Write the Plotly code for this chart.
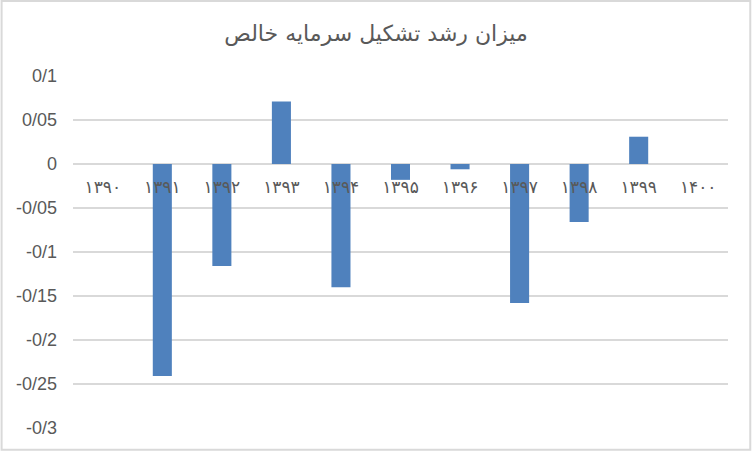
import plotly.graph_objects as go

# years (Persian digits) and growth values
years = ["۱۳۹۰", "۱۳۹۱", "۱۳۹۲", "۱۳۹۳", "۱۳۹۴", "۱۳۹۵",
         "۱۳۹۶", "۱۳۹۷", "۱۳۹۸", "۱۳۹۹", "۱۴۰۰"]
growth = [None, -0.241, -0.116, 0.071, -0.140, -0.018,
          -0.006, -0.158, -0.066, 0.031, None]

y_ticks = [0.1, 0.05, 0, -0.05, -0.1, -0.15, -0.2, -0.25, -0.3]
y_labels = ["0/1", "0/05", "0", "-0/05", "-0/1", "-0/15", "-0/2", "-0/25", "-0/3"]

title = "میزان رشد تشکیل سرمایه خالص"

grey_text = "#595959"
grid = "#d9d9d9"

fig = go.Figure(go.Bar(
    x=years,
    y=growth,
    marker=dict(color="#4f81bd", line=dict(width=0)),
    showlegend=False,
))

fig.update_layout(
    width=752,
    height=452,
    paper_bgcolor="white",
    plot_bgcolor="white",
    margin=dict(l=73, r=24, t=76, b=24),
    bargap=0.68,
    title=dict(
        text=title,
        x=0.5,
        xanchor="center",
        y=0.926,
        yanchor="middle",
        font=dict(family="DejaVu Sans", size=22, color=grey_text),
    ),
    xaxis=dict(
        type="category",
        anchor="free",
        position=0.75,  # zero line of the y range below
        showgrid=False,
        showline=False,
        zeroline=False,
        ticks="outside",
        ticklen=8,
        tickcolor="rgba(0,0,0,0)",
        tickfont=dict(family="DejaVu Sans", size=17, color=grey_text),
        fixedrange=True,
    ),
    yaxis=dict(
        range=[-0.3, 0.1],
        tickvals=y_ticks,
        ticktext=y_labels,
        showgrid=True,
        gridcolor=grid,
        gridwidth=1.5,
        zeroline=True,
        zerolinecolor=grid,
        zerolinewidth=1.5,
        showline=False,
        ticks="",
        ticklabelstandoff=15,
        tickfont=dict(family="Liberation Sans", size=18, color=grey_text),
    ),
    shapes=[dict(
        type="rect",
        xref="paper", yref="paper",
        x0=-0.109, x1=1.034, y0=-0.062, y1=1.213,
        line=dict(color=grid, width=2),
        fillcolor="rgba(0,0,0,0)",
        layer="below",
    )],
)

# drop the browser's default page margin so the figure sits at the window corner
fig.write_html("out.html", config={"displayModeBar": False},
               post_script="document.body.style.margin='0';")
